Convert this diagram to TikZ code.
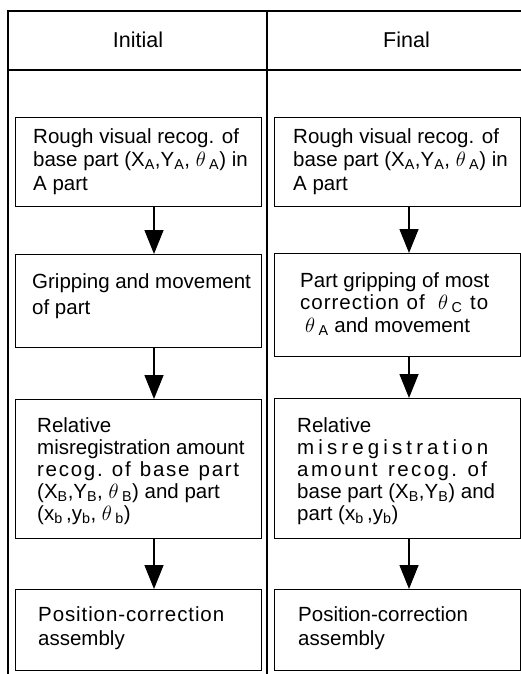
\documentclass[tikz,border=0pt]{standalone}
\usepackage{fontspec}
\setmainfont{Liberation Sans}
\usetikzlibrary{arrows.meta}
\newcommand\sbs[1]{\textsubscript{#1}}
\newcommand\spreadln[2]{\makebox[#1][s]{#2}}
\begin{document}
\begin{tikzpicture}[x=1pt,y=-1pt,
  frame/.style={line width=1.5pt},
  box/.style={draw, line width=1.4pt, rectangle, inner sep=0pt, anchor=north west, minimum width=246pt},
  txt/.style={anchor=base west, inner sep=0pt},
  head/.style={anchor=base, inner sep=0pt, font=\fontsize{21.5}{24}\selectfont},
  arr/.style={line width=1.5pt, -{Triangle[length=24pt,width=19pt]}}]
\useasboundingbox (0,0) rectangle (521,674);
\fill[white] (0,0) rectangle (521,674);
% table frame
\draw[frame] (521,11) -- (8,11) -- (8,674);
\draw[frame] (8,70) -- (521,70);
\draw[frame] (267,11) -- (267,674);
\node[head] (hI) at (138,48) {Initial};
\node[head] (hF) at (406.5,48) {Final};
% boxes
\node[box, minimum height=89pt] (L1) at (15,117) {};
\node[box, minimum height=89pt] (R1) at (274,117) {};
\node[box, minimum height=93pt] (L2) at (15,254) {};
\node[box, minimum height=103pt] (R2) at (274,253) {};
\node[box, minimum height=139pt] (L3) at (15,399) {};
\node[box, minimum height=140pt] (R3) at (274,398) {};
\node[box, minimum height=81pt] (L4) at (15,589) {};
\node[box, minimum height=81pt] (R4) at (274,589) {};
% texts
\node[txt] (L1t) at (33,143) {\parbox[t]{226pt}{\fontsize{20.5}{23.5}\selectfont\raggedright
Rough visual recog. of\\
base part (X\sbs{A},Y\sbs{A}, $\theta$\,\sbs{A}) in\\
A part}};
\node[txt] (R1t) at (293,143) {\parbox[t]{226pt}{\fontsize{20.5}{23.5}\selectfont\raggedright
Rough visual recog. of\\
base part (X\sbs{A},Y\sbs{A}, $\theta$\,\sbs{A}) in\\
A part}};
\node[txt] (L2t) at (32,288) {\parbox[t]{226pt}{\fontsize{20.5}{26.5}\selectfont\raggedright
Gripping and movement\\
of part}};
\node[txt] (R2t) at (300,287) {\parbox[t]{220pt}{\fontsize{20.5}{22.5}\selectfont\raggedright
Part gripping of most\\
\spreadln{188pt}{c\hfil o\hfil r\hfil r\hfil e\hfil c\hfil t\hfil i\hfil o\hfil n\hfil\ \hfil o\hfil f\hfil\ \ \hfil $\theta$\,\sbs{C}\hfil\ \hfil t\hfil o}\\
\hspace*{5pt}$\theta$\,\sbs{A} and movement}};
\node[txt] (L3t) at (37,432) {\parbox[t]{224pt}{\fontsize{20.5}{22}\selectfont\raggedright
Relative\\
misregistration amount\\
\spreadln{202pt}{r\hfil e\hfil c\hfil o\hfil g\hfil .\hfil\ \hfil o\hfil f\hfil\ \hfil b\hfil a\hfil s\hfil e\hfil\ \hfil p\hfil a\hfil r\hfil t}\\
(X\sbs{B},Y\sbs{B}, $\theta$\,\sbs{B}) and part\\
(x\sbs{b}\,,y\sbs{b}, $\theta$\,\sbs{b})}};
\node[txt] (R3t) at (297,432) {\parbox[t]{222pt}{\fontsize{20.5}{22}\selectfont\raggedright
Relative\\
\spreadln{191pt}{m\hfil i\hfil s\hfil r\hfil e\hfil g\hfil i\hfil s\hfil t\hfil r\hfil a\hfil t\hfil i\hfil o\hfil n}\\
\spreadln{190pt}{a\hfil m\hfil o\hfil u\hfil n\hfil t\hfil\ \hfil r\hfil e\hfil c\hfil o\hfil g\hfil .\hfil\ \hfil o\hfil f}\\
base part (X\sbs{B},Y\sbs{B}) and\\
part (x\sbs{b}\,,y\sbs{b})}};
\node[txt] (L4t) at (38,621) {\parbox[t]{222pt}{\fontsize{20.5}{24}\selectfont\raggedright
\spreadln{186pt}{P\hfil o\hfil s\hfil i\hfil t\hfil i\hfil o\hfil n\hfil -\hfil c\hfil o\hfil r\hfil r\hfil e\hfil c\hfil t\hfil i\hfil o\hfil n}\\
assembly}};
\node[txt] (R4t) at (298,621) {\parbox[t]{222pt}{\fontsize{20.5}{24}\selectfont\raggedright
Position-correction\\
assembly}};
% connectors
\coordinate (axL) at (154,0);
\coordinate (axR) at (409,0);
\draw[arr] (L1.south -| axL) -- (L2.north -| axL);
\draw[arr] (L2.south -| axL) -- (L3.north -| axL);
\draw[arr] (L3.south -| axL) -- (L4.north -| axL);
\draw[arr] (R1.south -| axR) -- (R2.north -| axR);
\draw[arr] (R2.south -| axR) -- (R3.north -| axR);
\draw[arr] (R3.south -| axR) -- (R4.north -| axR);
\end{tikzpicture}
\end{document}
